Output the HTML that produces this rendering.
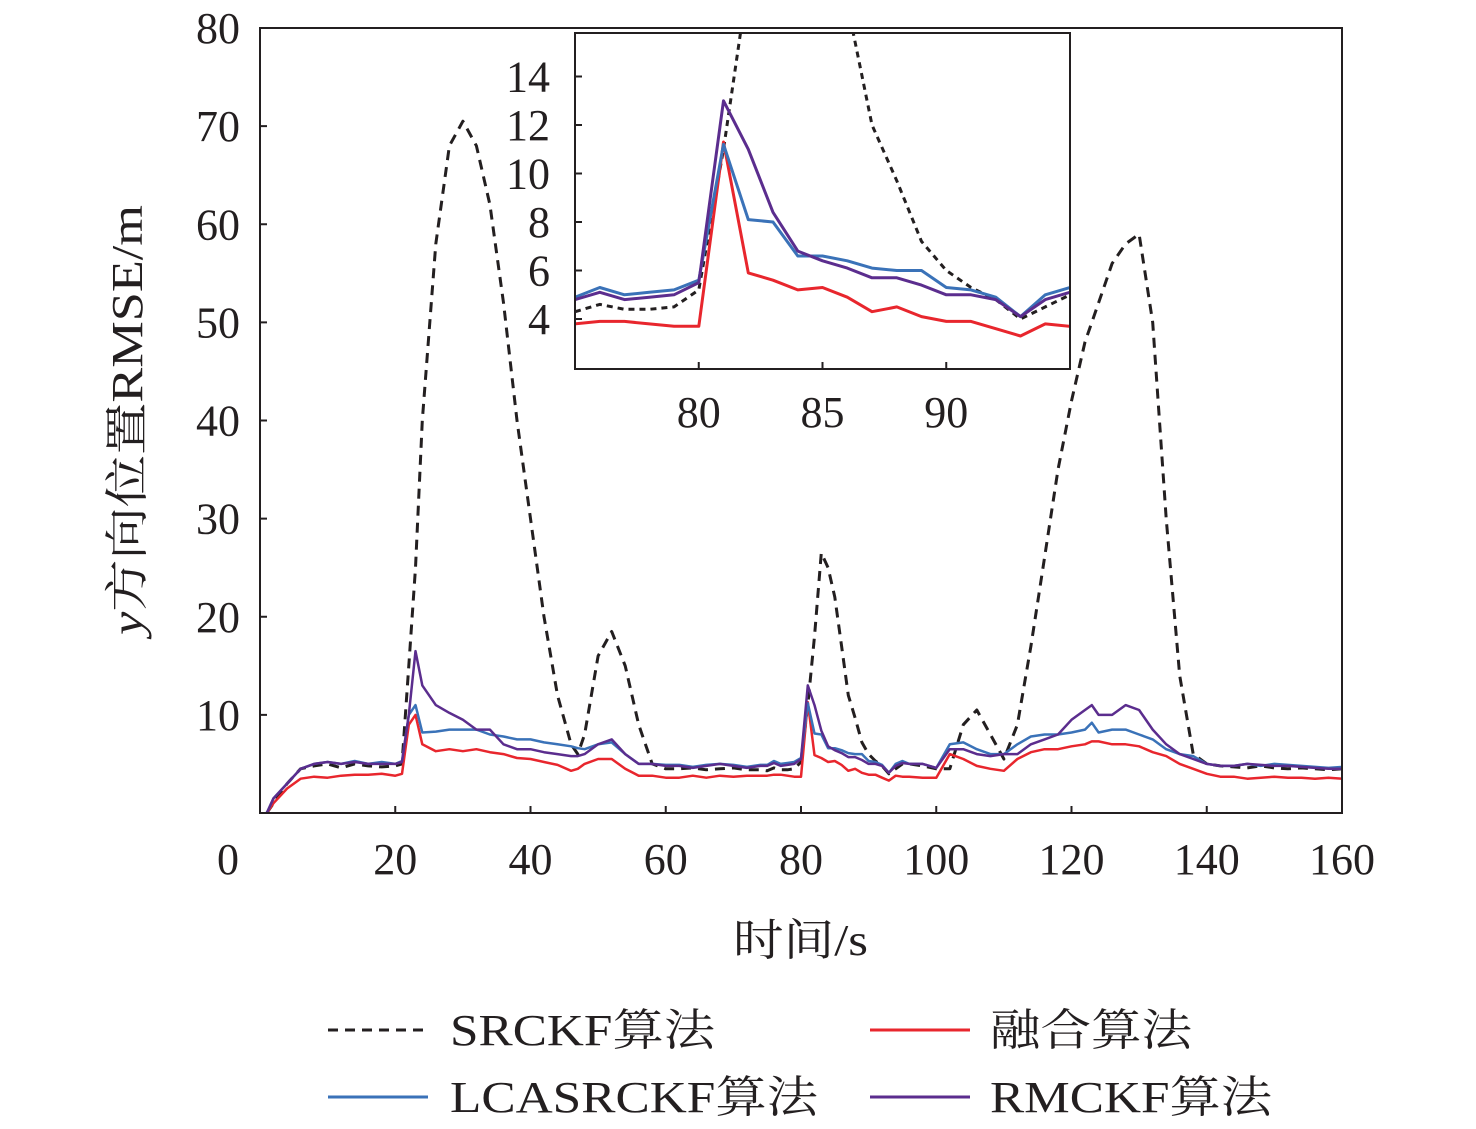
<!DOCTYPE html>
<html><head><meta charset="utf-8"><style>
html,body{margin:0;padding:0;background:#fff}
svg{display:block}
text{font-family:"Liberation Serif","Noto Serif CJK SC",serif;fill:#231f20}
</style></head><body>
<svg id="chart" width="1476" height="1129" viewBox="0 0 1476 1129" xmlns="http://www.w3.org/2000/svg">
<defs><clipPath id="insetClip"><rect x="576" y="34" width="493" height="334"/></clipPath>
<clipPath id="mainClip"><rect x="261" y="29" width="1080" height="783"/></clipPath></defs>
<g id="main"></g>
<g id="inset"></g>
<text x="733" y="955" font-size="44" textLength="135" lengthAdjust="spacingAndGlyphs">时间/s</text>
<text transform="translate(142,635) rotate(-90)" font-size="44" textLength="430" lengthAdjust="spacingAndGlyphs"><tspan font-style="italic">y</tspan>方向位置RMSE/m</text>
<g>
<line x1="328" y1="1030" x2="428" y2="1030" stroke="#231f20" stroke-width="3" stroke-dasharray="10,7"/>
<text x="450" y="1045" font-size="44" textLength="265" lengthAdjust="spacingAndGlyphs">SRCKF算法</text>
<line x1="870" y1="1030" x2="970" y2="1030" stroke="#e8262d" stroke-width="3"/>
<text x="990" y="1045" font-size="44" textLength="202" lengthAdjust="spacingAndGlyphs">融合算法</text>
<line x1="328" y1="1097" x2="428" y2="1097" stroke="#3a72b8" stroke-width="3"/>
<text x="450" y="1112" font-size="44" textLength="368" lengthAdjust="spacingAndGlyphs">LCASRCKF算法</text>
<line x1="870" y1="1097" x2="970" y2="1097" stroke="#5b2d8e" stroke-width="3"/>
<text x="990" y="1112" font-size="44" textLength="282" lengthAdjust="spacingAndGlyphs">RMCKF算法</text>
</g>
</svg>
<script>
const NS="http://www.w3.org/2000/svg";
const xTicks=[0,20,40,60,80,100,120,140,160];
const yTicks=[10,20,30,40,50,60,70,80];
const insetXTicks=[80,85,90];
const insetYTicks=[4,6,8,10,12,14];
const tInset=[75,76,77,78,79,80,81,82,83,84,85,86,87,88,89,90,91,92,93,94,95];
const srIn=[4.3,4.6,4.4,4.4,4.5,5.2,11,18,26.5,25,22,17,12,9.7,7.2,6.0,5.3,4.8,4.0,4.5,5.0];
const lcIn=[4.9,5.3,5.0,5.1,5.2,5.6,11.2,8.1,8.0,6.6,6.6,6.4,6.1,6.0,6.0,5.3,5.2,4.9,4.1,5.0,5.3];
const rmIn=[4.8,5.1,4.8,4.9,5.0,5.5,13,11,8.4,6.8,6.4,6.1,5.7,5.7,5.4,5.0,5.0,4.8,4.1,4.8,5.1];
const fuIn=[3.8,3.9,3.9,3.8,3.7,3.7,11.3,5.9,5.6,5.2,5.3,4.9,4.3,4.5,4.1,3.9,3.9,3.6,3.3,3.8,3.7];
const tPre=[1,2,4,6,8,10,12,14,16,18,20,21,22,23,24,26,28,30,32,34,36,38,40,42,44,46,47,48,50,52,54,56,58,60,62,64,66,68,70,72,74];
const srPre=[0,1,3,4.5,4.8,5,4.6,5,4.8,4.7,4.8,5,15,25,40,58,68,70.5,68,62,52,40,30,20,12,7,6,8,16,18.5,15,9,5,4.5,4.5,4.6,4.4,4.5,4.6,4.4,4.4];
const lcPre=[0,1.5,3,4.5,5,5.2,5,5.3,5,5.2,5,5.3,10,11,8.2,8.3,8.5,8.5,8.5,8,7.8,7.5,7.5,7.2,7,6.8,6.6,6.5,7,7.2,6,5,5,4.9,4.9,4.7,4.9,5,4.9,4.7,4.9];
const rmPre=[0,1.5,3,4.5,5,5.2,5,5.2,5,5,5,5.2,10,16.5,13,11,10.2,9.5,8.5,8.5,7,6.5,6.5,6.2,6,5.8,5.8,6,7,7.5,6,5,5,4.8,4.8,4.6,4.8,5,4.8,4.6,4.8];
const fuPre=[0,1,2.5,3.5,3.7,3.6,3.8,3.9,3.9,4,3.8,4,9,10,7,6.3,6.5,6.3,6.5,6.2,6,5.6,5.5,5.2,4.9,4.3,4.5,5,5.5,5.5,4.5,3.8,3.8,3.6,3.6,3.8,3.6,3.8,3.7,3.8,3.8];
const tPost=[96,98,100,102,104,106,108,110,112,114,116,118,120,122,123,124,126,128,130,132,134,136,138,140,142,144,146,148,150,152,154,156,158,160];
const srPost=[5,4.8,4.5,4.5,9,10.5,8,5.5,9,17,26,35,42,48,50,52,56,58,59,50,30,14,6,5,4.8,4.7,4.6,4.8,4.6,4.5,4.6,4.5,4.4,4.5];
const lcPost=[5,5,4.6,7,7.2,6.5,6,6,7,7.8,8,8,8.2,8.5,9.2,8.2,8.5,8.5,8,7.5,6.5,6,5.8,5,4.8,4.8,5,4.8,5,4.9,4.8,4.7,4.6,4.7];
const rmPost=[5,5,4.6,6.5,6.5,6,5.8,6,6,7,7.5,8,9.5,10.5,11,10,10,11,10.5,8.5,7,6,5.5,5,4.8,4.8,5,4.9,4.8,4.8,4.7,4.6,4.5,4.5];
const fuPost=[3.7,3.6,3.6,6,5.5,4.8,4.5,4.3,5.5,6.2,6.5,6.5,6.8,7,7.3,7.3,7,7,6.8,6.2,5.8,5,4.5,4,3.7,3.7,3.5,3.6,3.7,3.6,3.6,3.5,3.6,3.5];

const xM=v=>260+v*(1082/160), yM=v=>813-v*(785/80);
const xI=v=>575+(v-75)*(495/20), yI=v=>319-(v-4)*24.25;
function el(tag,attrs,parent){const e=document.createElementNS(NS,tag);for(const k in attrs)e.setAttribute(k,attrs[k]);parent.appendChild(e);return e;}
function pts(xs,ys,fx,fy){return xs.map((x,i)=>fx(x).toFixed(1)+","+fy(ys[i]).toFixed(1)).join(" ");}
const main=document.getElementById("main"), inset=document.getElementById("inset");
el("rect",{x:260,y:28,width:1082,height:785,fill:"none",stroke:"#231f20","stroke-width":2},main);
xTicks.forEach(v=>{const t=el("text",{x:v===0?228:xM(v),y:874,"font-size":44,"text-anchor":"middle"},main);t.textContent=v;


el("line",{x1:xM(v),y1:813,x2:xM(v),y2:806,stroke:"#231f20","stroke-width":2},main);});
yTicks.forEach(v=>{const t=el("text",{x:240,y:yM(v)+15,"font-size":44,"text-anchor":"end"},main);t.textContent=v;


el("line",{x1:260,y1:yM(v),x2:267,y2:yM(v),stroke:"#231f20","stroke-width":2},main);});
const series=[["srckf-line","#231f20",true,srPre,srIn,srPost],["fusion-line","#e8262d",false,fuPre,fuIn,fuPost],["lcasrckf-line","#3a72b8",false,lcPre,lcIn,lcPost],["rmckf-line","#5b2d8e",false,rmPre,rmIn,rmPost]];
const mg=el("g",{"clip-path":"url(#mainClip)"},main);
series.forEach(s=>{
  const xs=tPre.concat(tInset,tPost), ys=s[3].concat(s[4],s[5]);
  const a={points:pts(xs,ys,xM,yM),fill:"none",stroke:s[1],"stroke-width":s[2]?3:2.5,"stroke-linejoin":"round"};
  if(s[2])a["stroke-dasharray"]="10,7";
  const p=el("polyline",a,mg);
  
  
});
el("rect",{x:575,y:33,width:495,height:336,fill:"#fff",stroke:"none"},inset);
const ig=el("g",{"clip-path":"url(#insetClip)"},inset);
series.forEach(s=>{
  const a={points:pts(tInset,s[4],xI,yI),fill:"none",stroke:s[1],"stroke-width":3,"stroke-linejoin":"round"};
  if(s[2])a["stroke-dasharray"]="6,5";
  const p=el("polyline",a,ig);
  
  
});
el("rect",{x:575,y:33,width:495,height:336,fill:"none",stroke:"#231f20","stroke-width":2},inset);
insetXTicks.forEach(v=>{const t=el("text",{x:xI(v),y:427,"font-size":44,"text-anchor":"middle"},inset);t.textContent=v;


el("line",{x1:xI(v),y1:369,x2:xI(v),y2:362,stroke:"#231f20","stroke-width":2},inset);});
insetYTicks.forEach(v=>{const t=el("text",{x:550,y:yI(v)+15,"font-size":44,"text-anchor":"end"},inset);t.textContent=v;


el("line",{x1:575,y1:yI(v),x2:582,y2:yI(v),stroke:"#231f20","stroke-width":2},inset);});
</script>
</body></html>
